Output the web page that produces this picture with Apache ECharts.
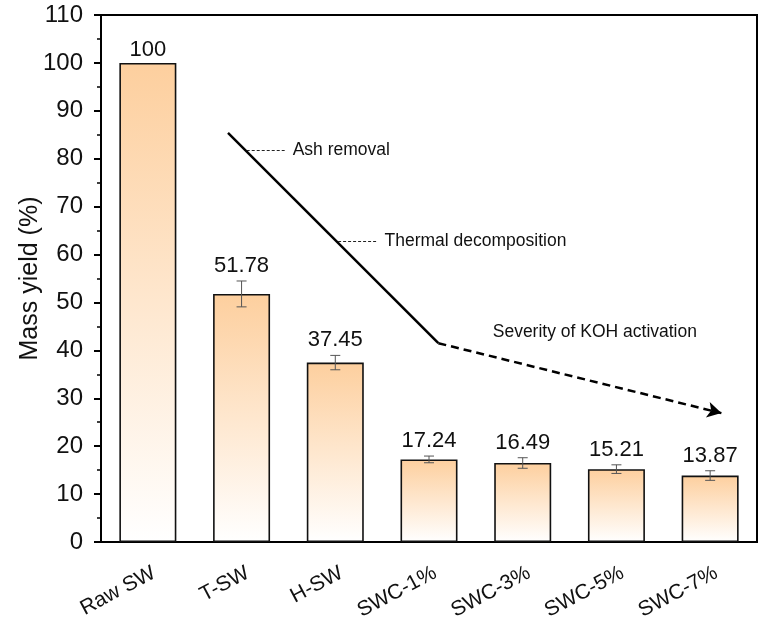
<!DOCTYPE html>
<html>
<head>
<meta charset="utf-8">
<script src="https://cdn.jsdelivr.net/npm/echarts@6/dist/echarts.min.js"></script>
<style>
  html, body { margin: 0; padding: 0; background: #fff; }
  #main { width: 762px; height: 623px; }
</style>
</head>
<body>
<div id="main"></div>
<script>
const categories = ['Raw SW', 'T-SW', 'H-SW', 'SWC-1%', 'SWC-3%', 'SWC-5%', 'SWC-7%'];
const yields = [100, 51.78, 37.45, 17.24, 16.49, 15.21, 13.87];
const errors = [0, 2.7, 1.5, 0.7, 1.1, 0.9, 1.0];
const yTicks = [0, 10, 20, 30, 40, 50, 60, 70, 80, 90, 100, 110];

// trend annotation, in (category index, value) units
const trendSolid = [[0.855, 85.4], [3.1, 41.5]];
const trendDashed = [[3.1, 41.5], [6.12, 26.9]];
const notes = [
  { text: 'Ash removal', from: [1.055, 81.7], to: [1.46, 81.7] },
  { text: 'Thermal decomposition', from: [2.03, 62.7], to: [2.44, 62.7] }
];
const kohNote = { text: 'Severity of KOH activation', at: [3.68, 43.9] };

const FONT = 'Liberation Sans, Arial, Helvetica, sans-serif';
const chart = echarts.init(document.getElementById('main'));

const errData = yields.map((v, i) => [i, v, errors[i]]);

const option = {
  animation: false,
  textStyle: { fontFamily: FONT },
  grid: {
    left: 101, right: 5, top: 15, bottom: 81,
    show: true, borderColor: '#000', borderWidth: 2
  },
  xAxis: [
    {
      type: 'category',
      data: categories,
      axisLine: { lineStyle: { color: '#000', width: 2 } },
      axisTick: { show: false },
      axisLabel: { rotate: 28, fontSize: 21, color: '#111', margin: 33, padding: [0, -7, 0, 0], fontFamily: FONT }
    },
    { type: 'value', min: -0.5, max: 6.5, show: false }
  ],
  yAxis: {
    type: 'value',
    min: yTicks[0], max: yTicks[yTicks.length - 1], interval: 10,
    name: 'Mass yield (%)',
    nameLocation: 'middle',
    nameGap: 58,
    nameMoveOverlap: false,
    nameTextStyle: { fontSize: 25, color: '#111', fontFamily: FONT },
    axisLine: { show: true, onZero: false, lineStyle: { color: '#000', width: 2 } },
    axisTick: { show: true, length: 7, lineStyle: { width: 2, color: '#000' } },
    minorTick: { show: true, splitNumber: 2, length: 4, lineStyle: { width: 1.5, color: '#000' } },
    splitLine: { show: false },
    axisLabel: { fontSize: 24, color: '#111', margin: 18, fontFamily: FONT }
  },
  series: [
    {
      type: 'bar',
      data: yields,
      barWidth: 57,
      itemStyle: {
        borderColor: '#111',
        borderWidth: 1.6,
        color: new echarts.graphic.LinearGradient(0, 0, 0, 1, [
          { offset: 0, color: '#FDCF9E' },
          { offset: 1, color: '#FFFFFF' }
        ])
      }
    },
    {
      type: 'custom',
      data: errData,
      z: 5,
      renderItem: function (params, api) {
        const i = api.value(0), v = api.value(1), e = api.value(2);
        const top = api.coord([i, v + e]);
        const bot = api.coord([i, v - e]);
        const cap = 5;
        const children = [];
        if (e > 0) {
          const st = { stroke: '#555', lineWidth: 1 };
          children.push(
            { type: 'line', shape: { x1: top[0], y1: top[1], x2: bot[0], y2: bot[1] }, style: st },
            { type: 'line', shape: { x1: top[0] - cap, y1: top[1], x2: top[0] + cap, y2: top[1] }, style: st },
            { type: 'line', shape: { x1: bot[0] - cap, y1: bot[1], x2: bot[0] + cap, y2: bot[1] }, style: st }
          );
        }
        children.push({
          type: 'text',
          style: {
            text: String(v), x: top[0], y: top[1] - (e > 0 ? 4 : 2),
            align: 'center', verticalAlign: 'bottom',
            fontSize: 22, fill: '#111', fontFamily: FONT
          }
        });
        return { type: 'group', children: children };
      }
    },
    {
      type: 'line',
      xAxisIndex: 1,
      data: [],
      silent: true,
      markLine: {
        silent: true,
        animation: false,
        symbol: ['none', 'none'],
        label: { show: false },
        data: [
          [
            { coord: trendSolid[0], lineStyle: { color: '#000', width: 2.5, type: 'solid' } },
            { coord: trendSolid[1] }
          ],
          [
            { coord: trendDashed[0], symbol: 'none', lineStyle: { color: '#000', width: 2.5, type: [8, 5] } },
            { coord: trendDashed[1], symbol: 'arrow', symbolSize: [12, 14] }
          ]
        ].concat(notes.map(n => [
          {
            coord: n.from,
            lineStyle: { color: '#222', width: 1, type: [3, 2] },
            label: { show: true, position: 'end', formatter: n.text, fontSize: 17.5, color: '#111', distance: 8, fontFamily: FONT }
          },
          { coord: n.to }
        ]))
      },
      markPoint: {
        silent: true,
        symbol: 'circle',
        symbolSize: 0,
        data: [{
          coord: kohNote.at,
          label: { show: true, position: 'right', distance: 0, formatter: kohNote.text, fontSize: 17.5, color: '#111', fontFamily: FONT }
        }]
      }
    }
  ]
};
chart.setOption(option);
</script>
</body>
</html>
